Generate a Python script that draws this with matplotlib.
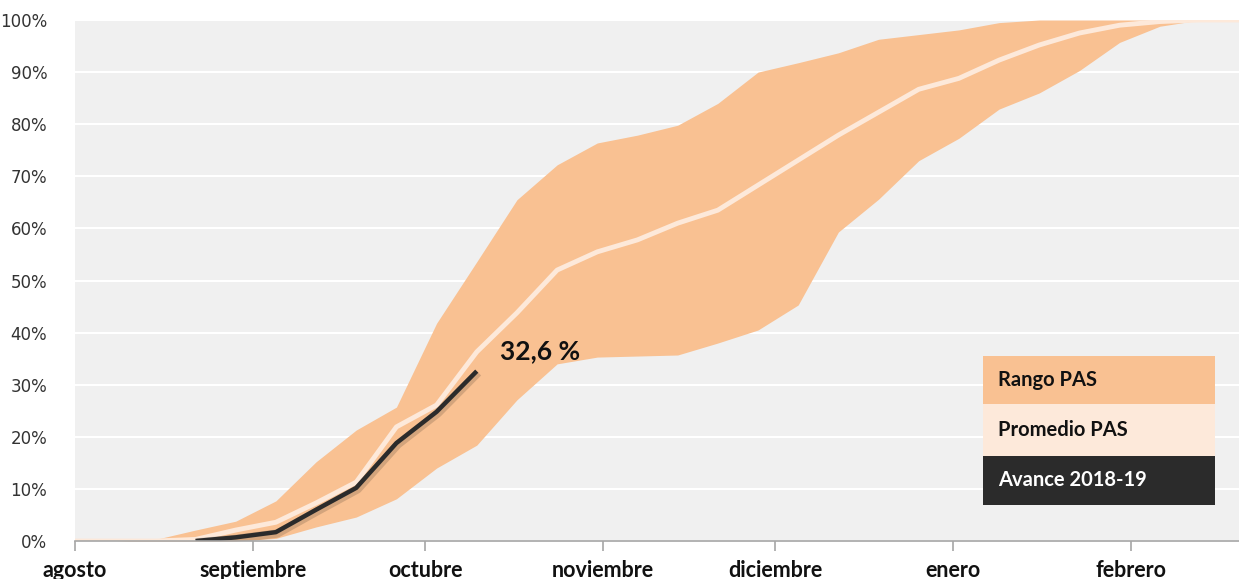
import numpy as np
import pandas as pd
import matplotlib
matplotlib.use('Agg')
import matplotlib.pyplot as plt
import matplotlib.patheffects as pe
from matplotlib.patches import Rectangle

# weekly dates from 1 Aug 2018
weeks = pd.date_range('2018-08-01', periods=30, freq='7D')

rango_max = [0, 0, 0.3, 2.1, 3.8, 7.7, 15.2, 21.3, 25.7, 41.8,
             53.6, 65.5, 72.2, 76.4, 77.9, 79.8, 84.0, 90.0, 91.8, 93.7,
             96.3, 97.2, 98.1, 99.5, 100, 100, 100, 100, 100, 100]
rango_min = [0, 0, 0, 0, 0, 0.5, 2.7, 4.6, 8.1, 14.0,
             18.4, 27.1, 34.0, 35.3, 35.5, 35.7, 38.0, 40.5, 45.3, 59.3,
             65.6, 73.0, 77.3, 82.9, 86.0, 90.3, 95.7, 98.8, 100, 100]
promedio = [0, 0, 0, 0.3, 2.1, 3.6, 7.3, 11.3, 21.9, 26.1,
            36.3, 43.8, 52.0, 55.5, 57.8, 61.0, 63.5, 68.3, 73.1, 77.9,
            82.3, 86.7, 88.8, 92.3, 95.2, 97.5, 99.0, 99.7, 100, 100]
avance = [0, 0.7, 1.7, 6.0, 10.2, 18.8, 24.8, 32.6]
avance_weeks = weeks[3:11]

month_starts = pd.to_datetime(['2018-08-01', '2018-09-01', '2018-10-01', '2018-11-01',
                               '2018-12-01', '2019-01-01', '2019-02-01'])
month_labels = ['agosto', 'septiembre', 'octubre', 'noviembre', 'diciembre', 'enero', 'febrero']

BAND = '#F9C192'
AVG = '#FDE9DA'
DARK = '#2B2B2B'

fig = plt.figure(figsize=(12.39, 5.79), dpi=100)
ax = fig.add_axes([75 / 1239, 38 / 579, 1164 / 1239, 521 / 579])
ax.set_facecolor('#F0F0F0')

ax.fill_between(weeks, rango_min, rango_max, color=BAND, lw=0, zorder=2)
ax.plot(weeks, promedio, color=AVG, lw=3.5, zorder=3, solid_joinstyle='round')
ax.plot(avance_weeks, avance, color=DARK, lw=3.2, zorder=4, solid_capstyle='butt',
        solid_joinstyle='round',
        path_effects=[pe.SimpleLineShadow(offset=(1, -1), alpha=0.15, rho=0.6, linewidth=6),
                      pe.Normal()])

ax.text(pd.Timestamp('2018-10-14'), 36.5, '32,6 %', fontsize=19, fontweight='bold',
        family='Lato', va='center', ha='left', color='#111111', zorder=5)

ax.set_ylim(0, 100)
ax.set_xlim(pd.Timestamp('2018-08-01'), pd.Timestamp('2018-08-01') + pd.Timedelta(days=202.8))
ax.set_yticks(np.arange(0, 101, 10))
ax.set_yticklabels([f'{v}%' for v in range(0, 101, 10)], fontsize=12, color='#333333')
ax.set_xticks(month_starts)
ax.set_xticklabels(month_labels, fontsize=15.5, fontweight='bold', family='Lato', color='#111111')
ax.grid(axis='y', color='white', lw=1.5, zorder=1)
ax.set_axisbelow(True)
for s in ['top', 'right', 'left']:
    ax.spines[s].set_visible(False)
ax.spines['bottom'].set_color('#A6A6A6')
ax.spines['bottom'].set_linewidth(1.2)
ax.spines['bottom'].set_zorder(6)
ax.tick_params(axis='y', length=0, pad=20)
ax.tick_params(axis='x', length=7, color='#A6A6A6', width=1.2, pad=7)

# legend boxes
legend_items = [('Rango PAS', BAND, '#111111', 356, 404),
                ('Promedio PAS', AVG, '#111111', 404, 456),
                ('Avance 2018-19', DARK, 'white', 456, 505)]
for label, fc, tc, y0, y1 in legend_items:
    fig.patches.append(Rectangle((983 / 1239, 1 - y1 / 579), 232 / 1239, (y1 - y0) / 579,
                                 transform=fig.transFigure, facecolor=fc, edgecolor='none', zorder=7))
    fig.text(998 / 1239, 1 - (y0 + y1) / 2 / 579, label, fontsize=14.5, fontweight='bold',
             family='Lato', color=tc, va='center', ha='left', zorder=8)

fig.savefig('out.png', dpi=100, facecolor='white')
